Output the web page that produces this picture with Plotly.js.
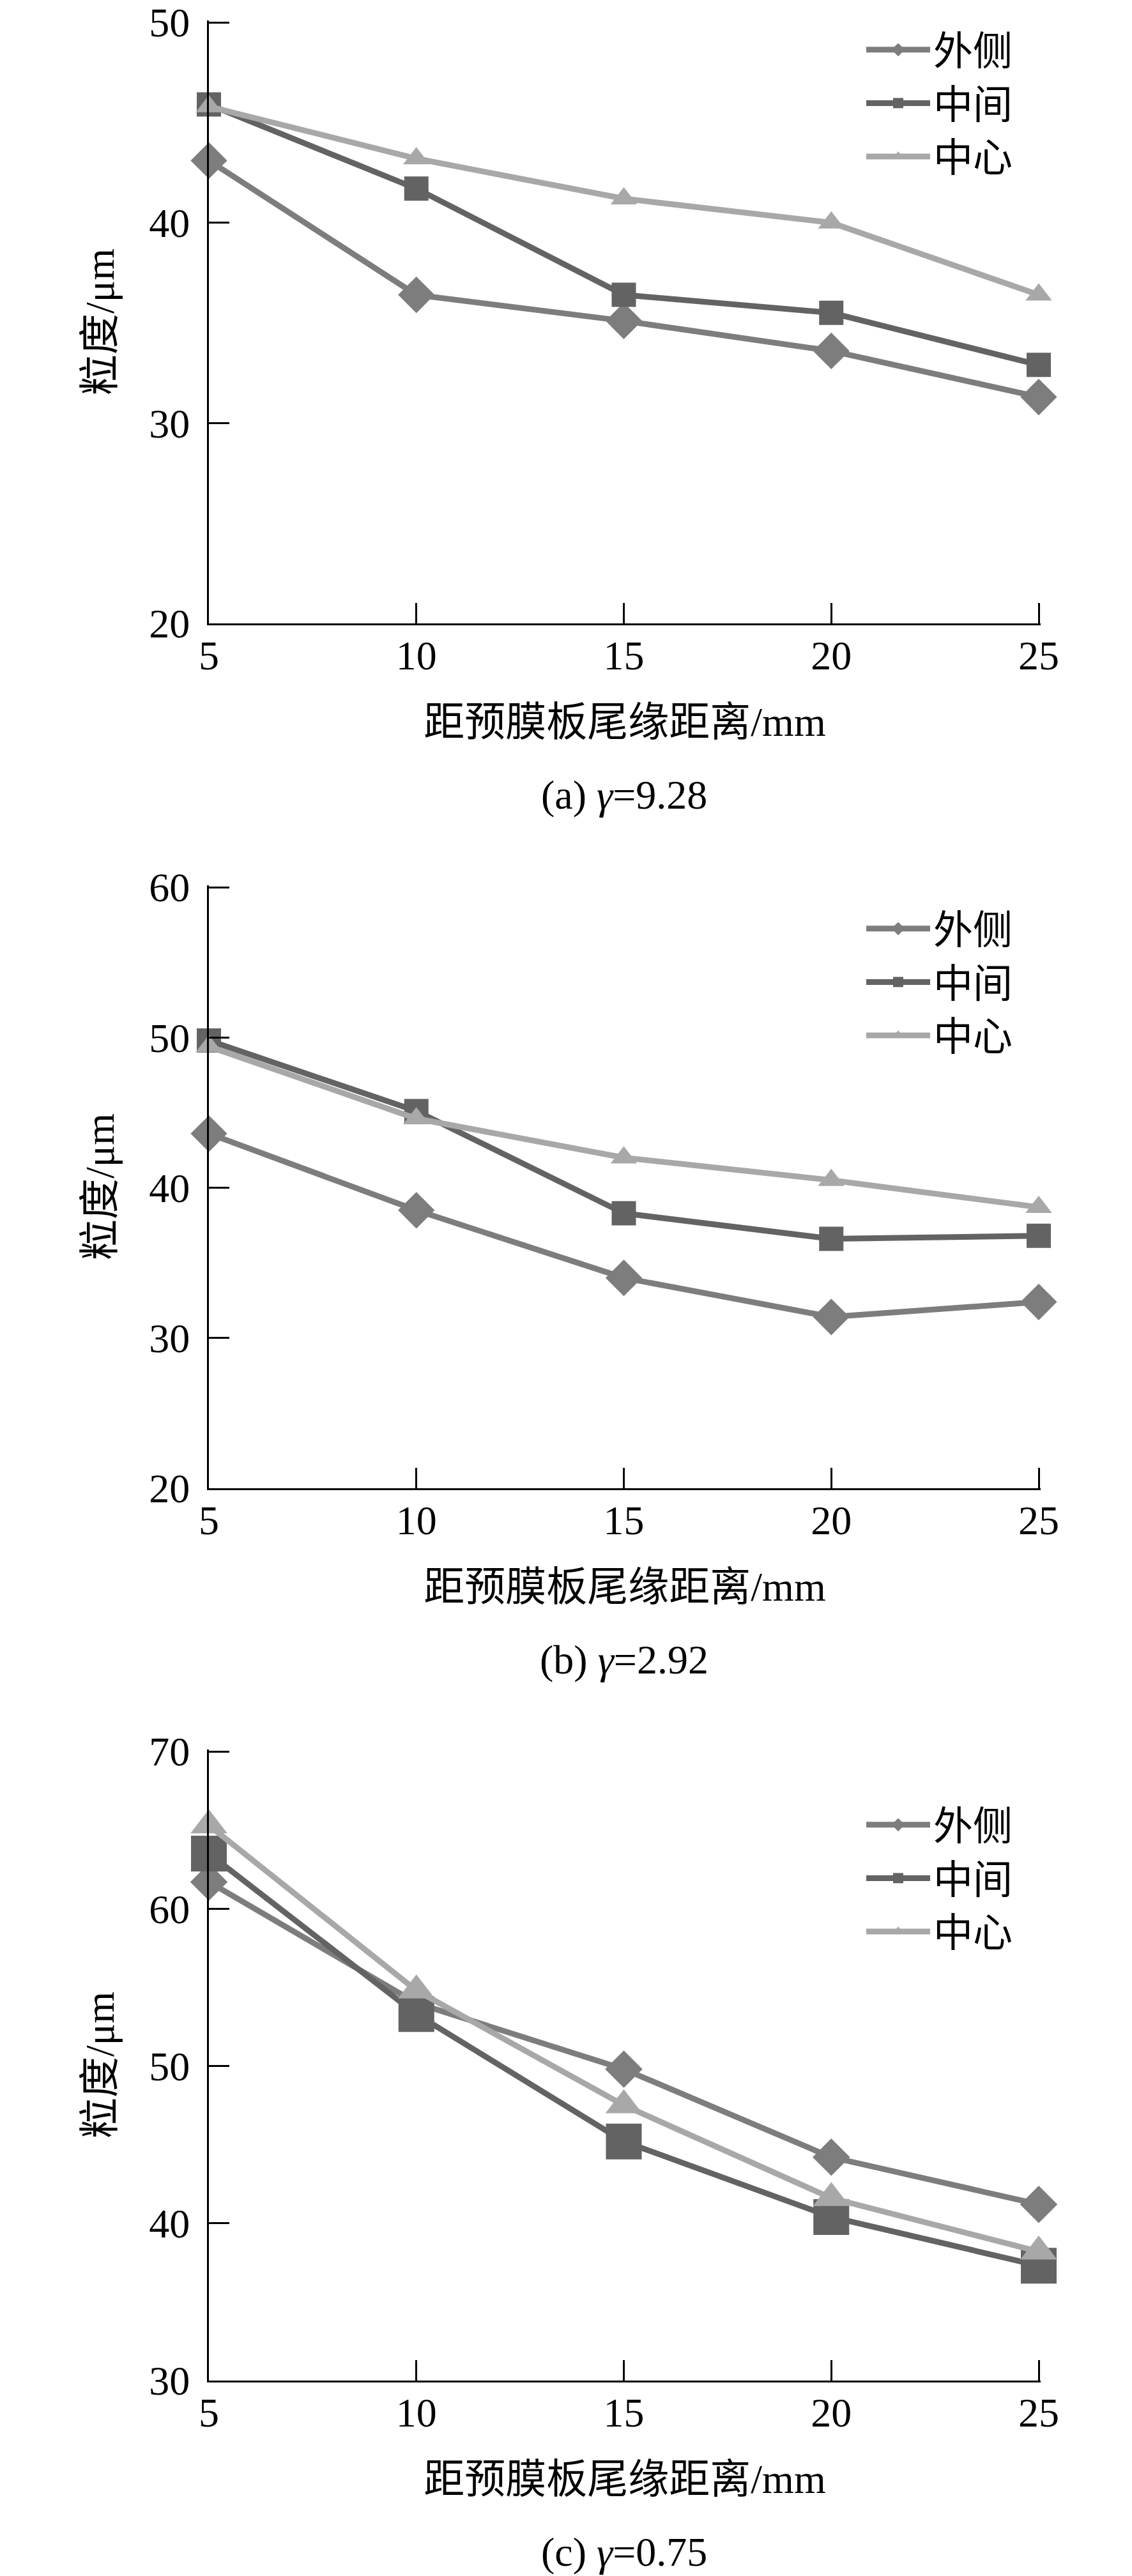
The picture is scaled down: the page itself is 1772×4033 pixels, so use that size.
<!DOCTYPE html>
<html>
<head>
<meta charset="utf-8">
<script src="https://cdn.plot.ly/plotly-3.0.1.min.js"></script>
<style>
  html, body { margin: 0; padding: 0; background: #fff; }
  #chart { width: 1772px; height: 4033px; }
</style>
</head>
<body>
<div id="chart"></div>
<script>
// distance from the pre-film plate trailing edge, mm
var distance = [5, 10, 15, 20, 25];
var seriesNames = ['外侧', '中间', '中心'];

// (a) gamma = 9.28
var outerA  = [43.1, 36.4, 35.1, 33.6, 31.3];
var middleA = [45.9, 41.7, 36.4, 35.5, 32.9];
var centerA = [45.8, 43.2, 41.2, 40.0, 36.4];
// (b) gamma = 2.92
var outerB  = [43.6, 38.5, 34.0, 31.4, 32.4];
var middleB = [49.8, 45.1, 38.3, 36.6, 36.8];
var centerB = [49.4, 44.6, 42.0, 40.5, 38.7];
// (c) gamma = 0.75
var outerC  = [61.7, 54.0, 49.8, 44.2, 41.2];
var middleC = [63.5, 53.3, 45.2, 40.4, 37.3];
var centerC = [65.3, 54.8, 47.5, 41.6, 38.2];

var captions = ['(a) <i>γ</i>=9.28', '(b) <i>γ</i>=2.92', '(c) <i>γ</i>=0.75'];
var yRanges = [[20, 50], [20, 60], [30, 70]];
var xRange = [5, 25];
var xTickVals = [5, 10, 15, 20, 25];

var W = 1772, H = 4033;
var serif = '"Liberation Serif", "Noto Sans CJK SC", serif';
var colors = ['#7d7d7d', '#636363', '#a8a8a8'];
var symbols = ['diamond', 'square', 'triangle-up'];

// pixel boxes of the three plot areas
var boxes = [
  {top: 35,   bottom: 976},
  {top: 1389, bottom: 2330},
  {top: 2742, bottom: 3727}
];
var left = 327, right = 1626;
// a few px of extra range so plotly keeps the end ticks (25 and the top value)
var padPx = 3;
function py(p) { return 1 - p / H; }

var panels = [
  [outerA, middleA, centerA],
  [outerB, middleB, centerB],
  [outerC, middleC, centerC]
];
var markerSizes = [
  [44, 38, 36],
  [44, 38, 36],
  [45, 56, 50]
];

var data = [];
var layout = {
  width: W, height: H,
  margin: {l: 0, r: 0, t: 0, b: 0},
  paper_bgcolor: '#fff', plot_bgcolor: 'rgba(0,0,0,0)',
  font: {family: serif, size: 64, color: '#000'},
  annotations: []
};

var xPad = padPx * (xRange[1] - xRange[0]) / (right - left);

for (var p = 0; p < 3; p++) {
  var sfx = p === 0 ? '' : String(p + 1);
  var legendId = 'legend' + sfx;
  for (var s = 0; s < 3; s++) {
    data.push({
      x: distance,
      y: panels[p][s],
      name: seriesNames[s],
      type: 'scatter',
      mode: 'lines+markers',
      xaxis: 'x' + sfx,
      yaxis: 'y' + sfx,
      legend: legendId,
      cliponaxis: false,
      line: {color: colors[s], width: 9},
      marker: {symbol: symbols[s], size: markerSizes[p][s], color: colors[s]}
    });
  }
  var b = boxes[p];
  var yr = yRanges[p];
  var yPad = padPx * (yr[1] - yr[0]) / (b.bottom - b.top);
  layout['xaxis' + sfx] = {
    domain: [left / W, (right + padPx) / W],
    anchor: 'y' + sfx,
    range: [xRange[0], xRange[1] + xPad],
    tickvals: xTickVals,
    ticks: 'inside', ticklen: 32, tickwidth: 3, tickcolor: '#000',
    showline: true, linewidth: 3, linecolor: '#000',
    showgrid: false, zeroline: false,
    ticklabelstandoff: -8,
    tickfont: {family: serif, size: 64},
    title: {text: '距预膜板尾缘距离/mm', font: {family: serif, size: 64}, standoff: 47},
    fixedrange: true
  };
  layout['yaxis' + sfx] = {
    domain: [py(b.bottom), py(b.top - padPx)],
    anchor: 'x' + sfx,
    range: [yr[0], yr[1] + yPad],
    tickvals: [yr[0], yr[0] + 10, yr[0] + 20, yr[0] + 30, yr[1]].filter(function (v) { return v <= yr[1]; }),
    ticks: 'inside', ticklen: 32, tickwidth: 3, tickcolor: '#000',
    showline: true, linewidth: 3, linecolor: '#000',
    showgrid: false, zeroline: false,
    ticklabelstandoff: 14,
    tickfont: {family: serif, size: 64},
    title: {text: '粒度/μm', font: {family: serif, size: 64}, standoff: 34},
    fixedrange: true
  };
  layout[legendId] = {
    x: 1351 / W, xanchor: 'left',
    y: py([31, 1407, 2810][p]), yanchor: 'top',
    bgcolor: 'rgba(0,0,0,0)',
    font: {family: serif, size: 62},
    itemwidth: 100,
    tracegroupgap: 0
  };
  layout.annotations.push({
    xref: 'paper', yref: 'paper',
    x: (left + right) / 2 / W, y: py(b.bottom + 268),
    xanchor: 'center', yanchor: 'middle',
    showarrow: false,
    text: captions[p],
    font: {family: serif, size: 64}
  });
}

Plotly.newPlot('chart', data, layout, {staticPlot: true});
</script>
</body>
</html>
